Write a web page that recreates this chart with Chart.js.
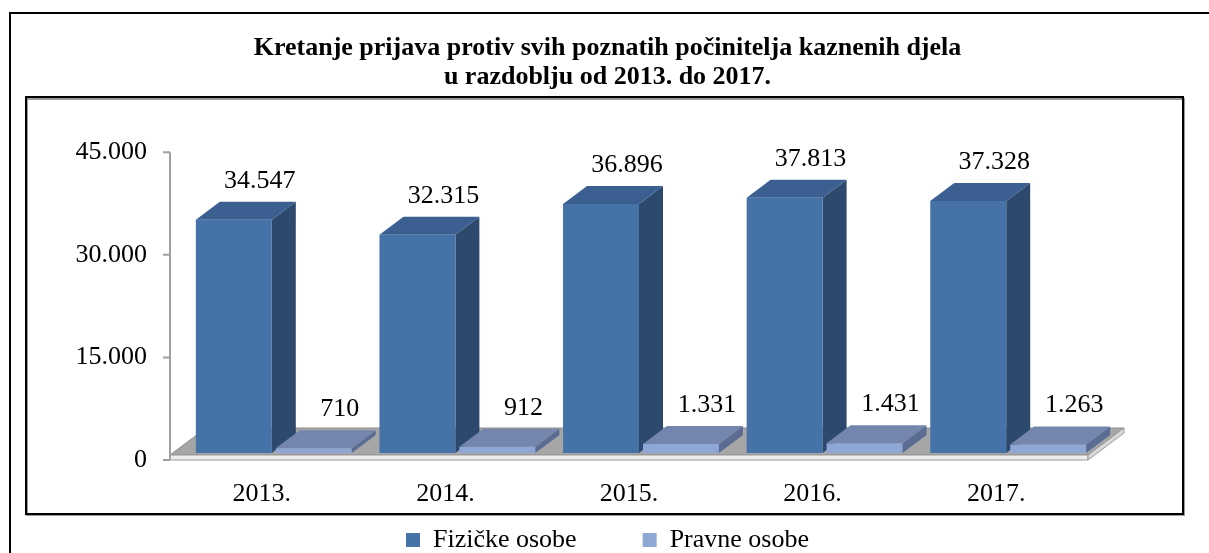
<!DOCTYPE html>
<html><head><meta charset="utf-8">
<script src="https://cdn.jsdelivr.net/npm/chart.js@4.4.0/dist/chart.umd.min.js"></script>
<style>html,body{margin:0;padding:0;background:#fff;}canvas{display:block;}</style>
</head><body>
<canvas id="c" width="1209" height="553"></canvas>
<script>
const categories = ['2013.', '2014.', '2015.', '2016.', '2017.'];
const fizicke = [34547, 32315, 36896, 37813, 37328];
const pravne = [710, 912, 1331, 1431, 1263];
const seriesNames = ['Fizičke osobe', 'Pravne osobe'];
const yTicks = [0, 15000, 30000, 45000];
const titleLines = ['Kretanje prijava protiv svih poznatih počinitelja kaznenih djela', 'u razdoblju od 2013. do 2017.'];

const SERIF = "'Liberation Serif', 'Times New Roman', serif";
const DX = 24, DY = -18;           // 3D depth of bars
const FDX = 36, FDY = -27;         // 3D depth of floor
const faces = [
  {front: '#4572A7', side: '#2D4A6E', top: '#3A5F90'},
  {front: '#8EA7D5', side: '#5B6C93', top: '#7486AD'}
];
const fmt = v => String(v).replace(/\B(?=(\d{3})+(?!\d))/g, '.');

function poly(ctx, pts, fill, stroke) {
  ctx.beginPath();
  ctx.moveTo(pts[0][0], pts[0][1]);
  for (let i = 1; i < pts.length; i++) ctx.lineTo(pts[i][0], pts[i][1]);
  ctx.closePath();
  if (fill) { ctx.fillStyle = fill; ctx.fill(); }
  if (stroke) { ctx.strokeStyle = stroke; ctx.lineWidth = 1; ctx.stroke(); }
}

function drawFaces(chart, index) {
  const ctx = chart.ctx;
  const f = faces[index];
  ctx.save();
  chart.getDatasetMeta(index).data.forEach(bar => {
    const {x, y, base, width} = bar.getProps(['x', 'y', 'base', 'width'], true);
    const l = x - width / 2, r = x + width / 2;
    poly(ctx, [[r, y], [r + DX, y + DY], [r + DX, base + DY], [r, base]], f.side);
    poly(ctx, [[l, y], [l + DX, y + DY], [r + DX, y + DY], [r, y]], f.top);
  });
  ctx.restore();
}

const framePlugin = {
  id: 'frame',
  beforeDraw(chart) {
    const ctx = chart.ctx;
    ctx.save();
    ctx.fillStyle = '#fff';
    ctx.fillRect(0, 0, chart.width, chart.height);
    ctx.strokeStyle = '#000';
    ctx.lineWidth = 2;
    ctx.beginPath();
    ctx.moveTo(10, chart.height); ctx.lineTo(10, 13); ctx.lineTo(chart.width, 13);
    ctx.stroke();
    ctx.strokeStyle = '#9a9a9a';
    ctx.strokeRect(27, 99, 1157, 416);
    ctx.strokeStyle = '#000';
    ctx.strokeRect(26, 97, 1157, 417);
    ctx.restore();
  },
  beforeDatasetsDraw(chart) {
    const ctx = chart.ctx, ca = chart.chartArea;
    const ys = chart.scales.y, xs = chart.scales.x;
    const axisX = ca.left - 12;
    const y0 = ys.getPixelForValue(0);
    const xr = xs.right - 12;
    ctx.save();
    const ft = y0 - 5;
    poly(ctx, [[axisX, ft], [xr, ft], [xr + FDX, ft + FDY], [axisX + FDX, ft + FDY]], '#A6A6A6', '#8c8c8c');
    poly(ctx, [[axisX, ft], [xr, ft], [xr, y0], [axisX, y0]], '#EDEDED', '#9a9a9a');
    poly(ctx, [[xr, ft], [xr + FDX, ft + FDY], [xr + FDX, y0 + FDY], [xr, y0]], '#D9D9D9', '#9a9a9a');
    ctx.strokeStyle = '#A0A0A0';
    ctx.lineWidth = 2;
    ctx.beginPath();
    ctx.moveTo(axisX, ys.getPixelForValue(yTicks[yTicks.length - 1]));
    ctx.lineTo(axisX, y0);
    ys.ticks.forEach(t => {
      const py = ys.getPixelForValue(t.value);
      ctx.moveTo(axisX - 7, py); ctx.lineTo(axisX, py);
    });
    ctx.stroke();
    ctx.restore();
    // first series' side and top faces go behind the later series
    drawFaces(chart, 0);
  },
  afterDatasetDraw(chart, args) {
    if (args.index !== 0) drawFaces(chart, args.index);
  },
  afterDraw(chart) {
    const ctx = chart.ctx;
    ctx.save();
    ctx.fillStyle = '#000';
    ctx.font = '26px ' + SERIF;
    ctx.textAlign = 'center';
    ctx.textBaseline = 'middle';
    chart.data.datasets.forEach((ds, di) => {
      chart.getDatasetMeta(di).data.forEach((bar, i) => {
        ctx.fillText(fmt(ds.data[i]), bar.x + 26, bar.y + DY - 21);
      });
    });
    ctx.restore();
  }
};

new Chart(document.getElementById('c'), {
  type: 'bar',
  data: {
    labels: categories,
    datasets: [
      {label: seriesNames[0], data: fizicke, backgroundColor: faces[0].front, borderWidth: 0, yAxisID: 'yb',
       categoryPercentage: 0.871, barPercentage: 0.95},
      {label: seriesNames[1], data: pravne, backgroundColor: faces[1].front, borderWidth: 0, yAxisID: 'yb',
       categoryPercentage: 0.871, barPercentage: 0.95}
    ]
  },
  options: {
    responsive: false,
    animation: false,
    devicePixelRatio: 1,
    layout: {padding: {top: 0, left: 115, right: 109, bottom: -10}},
    plugins: {
      title: {
        display: true, text: titleLines, color: '#000',
        font: {family: SERIF, size: 26, weight: 'bold', lineHeight: 1.12},
        padding: {top: 34, bottom: 60}
      },
      legend: {
        position: 'bottom',
        labels: {
          boxWidth: 14, boxHeight: 14, padding: 66, color: '#000',
          font: {family: SERIF, size: 26}
        }
      },
      tooltip: {enabled: false}
    },
    scales: {
      x: {
        grid: {display: false, drawTicks: false}, border: {display: false},
        ticks: {mirror: true, padding: -50, labelOffset: -12, color: '#000', font: {family: SERIF, size: 26}},
        afterFit: s => { s.height = 1; }
      },
      y: {
        position: 'left', min: 0, max: 45000,
        grid: {display: false, drawTicks: false}, border: {display: false},
        ticks: {mirror: true, crossAlign: 'far', padding: -106.5, color: '#000', font: {family: SERIF, size: 26}, callback: v => fmt(v)},
        afterBuildTicks: s => { s.ticks = yTicks.map(v => ({value: v})); },
        afterFit: s => { s.width = 67; }
      },
      yb: {display: false, min: -1040, max: 44554}
    }
  },
  plugins: [framePlugin]
});
</script>
</body></html>
